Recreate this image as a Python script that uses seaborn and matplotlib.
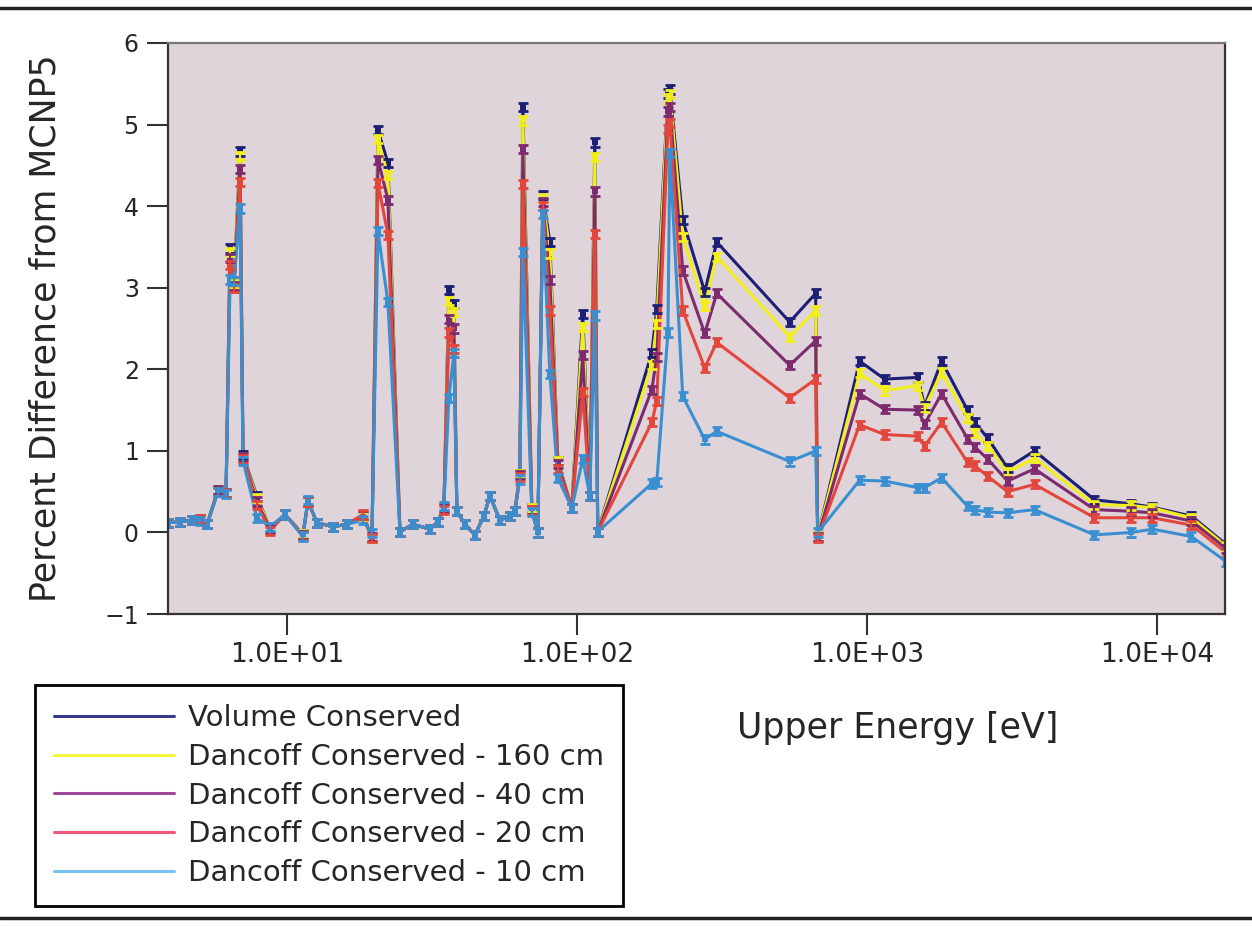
import seaborn as sns
import matplotlib.pyplot as plt
import pandas as pd
from matplotlib.lines import Line2D
from matplotlib.ticker import NullLocator

# Upper energy of each group [eV]
energy = [3.892, 4.280, 4.708, 5.015, 5.302, 5.785, 6.165, 6.364, 6.568, 6.889,
          7.054, 7.883, 8.738, 9.842, 11.35, 11.81, 12.69, 14.40, 16.09, 18.27,
          19.63, 20.59, 22.28, 24.51, 27.17, 31.09, 33.13, 34.74, 36.14, 37.61,
          38.51, 41.05, 44.43, 47.71, 50.04, 54.17, 58.65, 61.02, 63.48, 65.01,
          69.82, 73.21, 76.18, 80.54, 85.82, 95.87, 104.6, 110.6, 115.1, 117.8,
          180.9, 188.2, 205.6, 208.7, 231.2, 275.4, 302.9, 540.4, 664.1, 674.8,
          941.5, 1148, 1492, 1577, 1804, 2217, 2344, 2599, 3045, 3772,
          6072, 8143, 9618, 13110, 17300]

volume = [0.12, 0.13, 0.15, 0.16, 0.10, 0.52, 0.48, 3.48, 3.05, 4.67,
          0.95, 0.44, 0.05, 0.22, -0.02, 0.38, 0.12, 0.07, 0.10, 0.20,
          -0.07, 4.93, 4.53, 0.01, 0.10, 0.04, 0.13, 0.30, 2.97, 2.80,
          0.26, 0.10, -0.03, 0.20, 0.45, 0.15, 0.20, 0.26, 0.72, 5.22,
          0.30, 0.00, 4.14, 3.56, 0.88, 0.30, 2.68, 0.45, 4.78, 0.01,
          2.20, 2.74, 5.38, 5.43, 3.83, 2.95, 3.56, 2.58, 2.93, -0.05,
          2.10, 1.88, 1.90, 1.55, 2.10, 1.50, 1.35, 1.16, 0.79, 1.00,
          0.40, 0.35, 0.31, 0.20, -0.15]

dancoff_160 = [0.12, 0.13, 0.15, 0.16, 0.10, 0.52, 0.48, 3.44, 3.05, 4.61,
               0.93, 0.42, 0.05, 0.22, -0.02, 0.38, 0.12, 0.07, 0.10, 0.20,
               -0.07, 4.82, 4.38, 0.01, 0.10, 0.04, 0.13, 0.30, 2.84, 2.70,
               0.26, 0.10, -0.03, 0.20, 0.45, 0.15, 0.20, 0.26, 0.72, 5.05,
               0.30, 0.00, 4.10, 3.42, 0.87, 0.30, 2.52, 0.45, 4.60, 0.01,
               2.05, 2.56, 5.32, 5.37, 3.62, 2.78, 3.38, 2.40, 2.72, -0.05,
               1.95, 1.74, 1.80, 1.53, 1.96, 1.40, 1.22, 1.06, 0.74, 0.91,
               0.34, 0.33, 0.30, 0.18, -0.17]

dancoff_40 = [0.12, 0.13, 0.15, 0.16, 0.10, 0.52, 0.48, 3.36, 3.02, 4.46,
              0.92, 0.38, 0.04, 0.22, -0.03, 0.38, 0.12, 0.07, 0.10, 0.21,
              -0.06, 4.57, 4.08, 0.01, 0.10, 0.04, 0.13, 0.30, 2.62, 2.50,
              0.26, 0.10, -0.03, 0.20, 0.45, 0.15, 0.20, 0.26, 0.70, 4.70,
              0.28, 0.00, 4.05, 3.09, 0.84, 0.30, 2.17, 0.45, 4.18, 0.01,
              1.75, 2.15, 5.16, 5.22, 3.21, 2.44, 2.93, 2.05, 2.35, -0.06,
              1.70, 1.51, 1.50, 1.33, 1.70, 1.15, 1.05, 0.90, 0.63, 0.78,
              0.28, 0.26, 0.24, 0.14, -0.20]

dancoff_20 = [0.12, 0.13, 0.15, 0.16, 0.10, 0.50, 0.48, 3.28, 3.00, 4.30,
              0.90, 0.34, 0.02, 0.22, -0.04, 0.38, 0.12, 0.07, 0.10, 0.22,
              -0.07, 4.28, 3.65, 0.01, 0.10, 0.04, 0.13, 0.28, 2.45, 2.25,
              0.26, 0.10, -0.03, 0.20, 0.45, 0.15, 0.20, 0.26, 0.68, 4.27,
              0.27, 0.00, 4.00, 2.72, 0.78, 0.30, 1.72, 0.45, 3.66, 0.01,
              1.35, 1.61, 4.95, 5.02, 2.72, 2.02, 2.33, 1.65, 1.88, -0.07,
              1.32, 1.20, 1.18, 1.06, 1.35, 0.86, 0.82, 0.69, 0.50, 0.59,
              0.18, 0.18, 0.18, 0.09, -0.25]

dancoff_10 = [0.12, 0.13, 0.15, 0.14, 0.10, 0.50, 0.47, 3.10, 3.08, 3.97,
              0.88, 0.18, 0.07, 0.22, -0.05, 0.40, 0.12, 0.07, 0.10, 0.15,
              -0.01, 3.69, 2.82, 0.01, 0.10, 0.04, 0.13, 0.32, 1.65, 2.20,
              0.26, 0.10, -0.03, 0.20, 0.45, 0.15, 0.20, 0.26, 0.65, 3.44,
              0.25, 0.00, 3.90, 1.94, 0.67, 0.30, 0.90, 0.45, 2.66, 0.01,
              0.60, 0.62, 2.45, 4.65, 1.67, 1.14, 1.24, 0.87, 1.00, 0.00,
              0.64, 0.63, 0.55, 0.55, 0.67, 0.32, 0.28, 0.25, 0.24, 0.28,
              -0.03, 0.00, 0.04, -0.05, -0.36]

series_names = ["Volume Conserved", "Dancoff Conserved - 160 cm",
                "Dancoff Conserved - 40 cm", "Dancoff Conserved - 20 cm",
                "Dancoff Conserved - 10 cm"]
series_values = [volume, dancoff_160, dancoff_40, dancoff_20, dancoff_10]
error = 0.05

line_colors = ["#1c1f73", "#f2ee1c", "#7d2b6e", "#e2463c", "#3a8fd1"]
legend_colors = ["#3a3a8c", "#f4f43c", "#a0489a", "#f0587a", "#78c4f0"]

rows = []
for name, vals in zip(series_names, series_values):
    for e, v in zip(energy, vals):
        rows.append({"Upper Energy": e, "Diff": v, "Series": name})
df = pd.DataFrame(rows)

sns.set_style("ticks")
plt.rcParams['font.family'] = ['DejaVu Sans']

fig = plt.figure(figsize=(12.52, 9.26), dpi=100)
ax = fig.add_axes([0.1342, 0.3369, 0.8442, 0.6167])
ax.set_facecolor("#e0d4db")
ax.set_xscale("log")

sns.lineplot(data=df, x="Upper Energy", y="Diff", hue="Series",
             hue_order=series_names, palette=line_colors, estimator=None,
             linewidth=2.2, marker="s", markersize=4, markeredgewidth=0,
             legend=False, ax=ax)

for vals, c in zip(series_values, line_colors):
    ax.errorbar(energy, vals, yerr=error, fmt="none", ecolor=c,
                elinewidth=1.5, capsize=3.5, capthick=2)

ax.set_xlim(3.89, 17100)
ax.set_ylim(-1, 6)
ax.set_xticks([10, 100, 1000, 10000])
ax.set_xticklabels(["1.0E+01", "1.0E+02", "1.0E+03", "1.0E+04"])
ax.xaxis.set_minor_locator(NullLocator())
ax.set_yticks(range(-1, 7))

ax.tick_params(axis="both", direction="out", length=15, width=1.5,
               color="#333333", pad=6)
ax.tick_params(axis="x", labelsize=19, pad=5)
ax.tick_params(axis="y", labelsize=17)

for side in ["left", "bottom", "right"]:
    ax.spines[side].set_color("#333333")
    ax.spines[side].set_linewidth(1.6)
ax.spines["top"].set_color("#777777")
ax.spines["top"].set_linewidth(1.6)

ax.set_ylabel("Percent Difference from MCNP5", fontsize=25)
ax.yaxis.set_label_coords(-0.1, 0.5)
ax.set_xlabel("Upper Energy [eV]", fontsize=25)
ax.xaxis.set_label_coords(0.69, -0.17)

handles = [Line2D([0], [0], color=c, lw=2.2) for c in legend_colors]
leg = fig.legend(handles, series_names, loc="upper left",
                 bbox_to_anchor=(0.028, 0.2603), fontsize=21,
                 frameon=True, fancybox=False, edgecolor="black",
                 framealpha=1, borderpad=0.65, labelspacing=0.37,
                 handlelength=4.1, handletextpad=0.5, borderaxespad=0)
leg.get_frame().set_linewidth(2)

# page rules above and below the figure
fig.add_artist(Line2D([0, 1], [0.9914, 0.9914], transform=fig.transFigure,
                      color="#222222", lw=2.5))
fig.add_artist(Line2D([0, 1], [0.0086, 0.0086], transform=fig.transFigure,
                      color="#222222", lw=2.5))

fig.savefig("out.png", dpi=100)
